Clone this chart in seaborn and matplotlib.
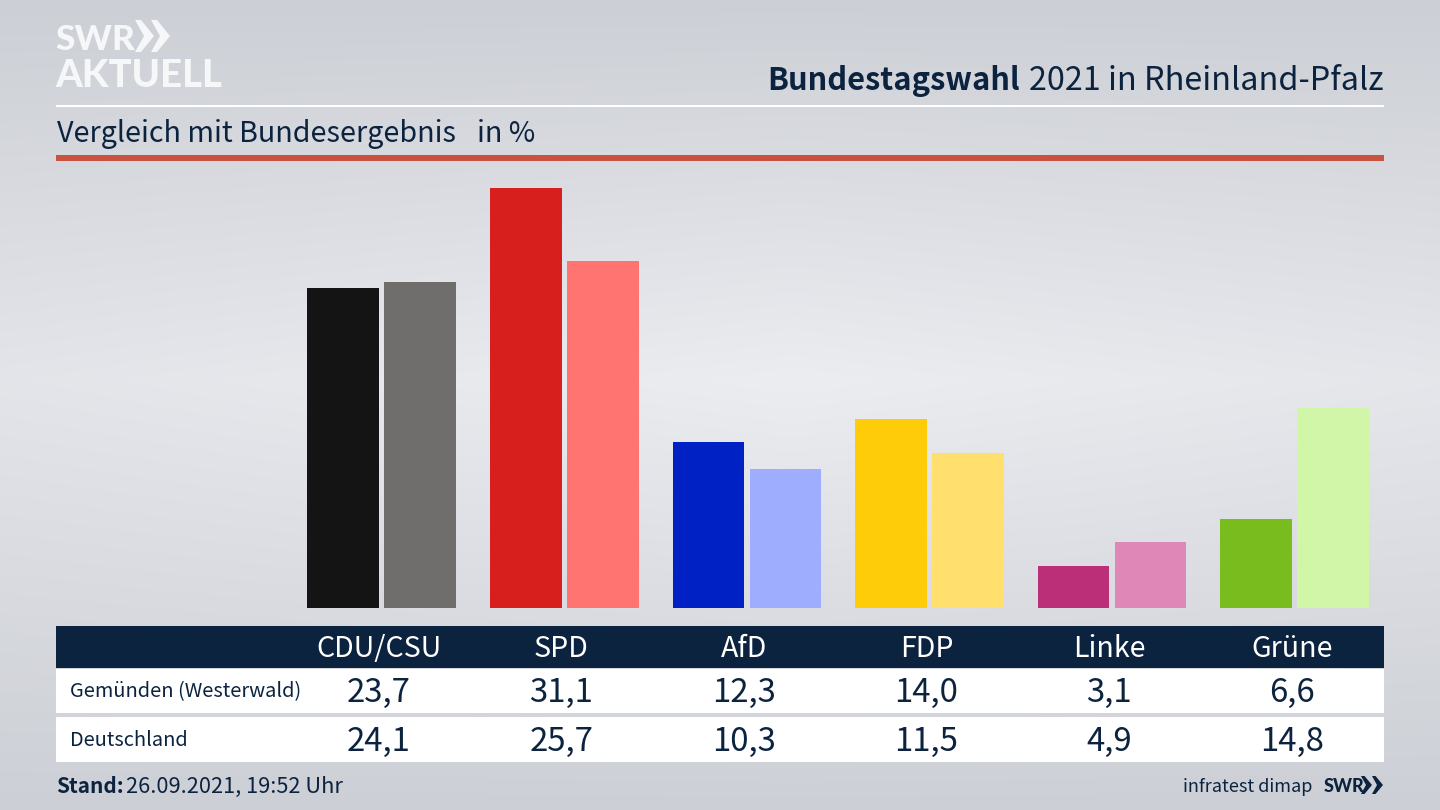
import numpy as np
import pandas as pd
import matplotlib
matplotlib.use("Agg")
import matplotlib.pyplot as plt
from matplotlib.patches import Rectangle, Polygon
from matplotlib.transforms import blended_transform_factory
import seaborn as sns

parties = ["CDU/CSU", "SPD", "AfD", "FDP", "Linke", "Grüne"]
local_name = "Gemünden (Westerwald)"
national_name = "Deutschland"
local_values = [23.7, 31.1, 12.3, 14.0, 3.1, 6.6]
national_values = [24.1, 25.7, 10.3, 11.5, 4.9, 14.8]
local_colors = ["#141414", "#d71f1d", "#0021c4", "#ffcc0a", "#bb2e78", "#78bc1e"]
national_colors = ["#6f6e6c", "#ff7370", "#9fadff", "#ffe06e", "#df88b8", "#d2f6a8"]

NAVY = "#0c2340"
FONT = "Noto Sans CJK SC"

sns.set_theme(style="white")
plt.rcParams["font.family"] = [FONT, "DejaVu Sans"]

W, H = 1440, 810
fig = plt.figure(figsize=(W / 100, H / 100), dpi=100)

# Page layer in pixel coordinates
page = fig.add_axes([0, 0, 1, 1], zorder=0)
page.set_xlim(0, W)
page.set_ylim(H, 0)
page.axis("off")

yy, xx = np.mgrid[0:H, 0:W]
vert = np.interp(yy, [0, 380, 810], [0.0, 1.0, 0.0])
horiz = 1 - 0.25 * np.abs(xx / W - 0.55) * 2
mix = (vert * horiz)[..., None]
dark = np.array([204, 207, 213]) / 255
light = np.array([236, 237, 241]) / 255
page.imshow(dark + (light - dark) * mix, extent=[0, W, H, 0], aspect="auto", zorder=0)

# Chart layer
ax = fig.add_axes([56 / W, 1 - 608 / H, (1384 - 56) / W, (608 - 165) / H], zorder=1)
ax.patch.set_alpha(0)
df = pd.DataFrame({
    "party": parties * 2,
    "region": [local_name] * 6 + [national_name] * 6,
    "value": local_values + national_values,
})
sns.barplot(data=df, x="party", y="value", hue="region", width=0.845, gap=0.072,
            saturation=1, legend=False, ax=ax)
for container, colors in zip(ax.containers, [local_colors, national_colors]):
    for bar, color in zip(container, colors):
        bar.set_facecolor(color)
        bar.set_edgecolor("none")
ax.set_xlim((56 - 381.7) / 182.6, (1384 - 381.7) / 182.6)
ax.set_ylim(0, (608 - 165) / 13.52)
ax.axis("off")

# Header
page.add_patch(Rectangle((56, 104.8), 1328, 2.6, fc="white", ec="none", zorder=2))
page.add_patch(Rectangle((56, 155), 1328, 5.5, fc="#c9513f", ec="none", zorder=2))
page.text(1384, 90, "2021 in Rheinland-Pfalz", ha="right", va="baseline",
          fontsize=23.3, color=NAVY, zorder=3)
page.text(1020, 90, "Bundestagswahl", ha="right", va="baseline", fontsize=22.2,
          fontweight="bold", color=NAVY, zorder=3)
page.text(57, 142, "Vergleich mit Bundesergebnis", ha="left", va="baseline",
          fontsize=20.7, color=NAVY, zorder=3)
page.text(477, 142, "in %", ha="left", va="baseline", fontsize=20.7, color=NAVY, zorder=3)

# Logo
logo_font = ["Lato", "DejaVu Sans"]
page.text(55, 50, "SWR", ha="left", va="baseline", fontsize=25.5, fontweight=900,
          family=logo_font, color="#f6f7f8", zorder=3)
page.text(55, 87, "AKTUELL", ha="left", va="baseline", fontsize=27.5, fontweight=900,
          family=logo_font, color="#f6f7f8", zorder=3)
for x0 in (135, 151):
    page.add_patch(Polygon([(x0, 20), (x0 + 6, 20), (x0 + 19, 36), (x0 + 6, 52), (x0, 52), (x0 + 9, 36)],
                           fc="#f6f7f8", ec="none", zorder=3))

# Table
page.add_patch(Rectangle((56, 626), 1328, 42, fc=NAVY, ec="none", zorder=2))
page.add_patch(Rectangle((56, 669), 1328, 44, fc="white", ec="none", zorder=2))
page.add_patch(Rectangle((56, 717), 1328, 45, fc="white", ec="none", zorder=2))
cell = blended_transform_factory(ax.transData, page.transData)
shift = 3 / 182.6
for i, party in enumerate(parties):
    page.text(i - shift, 657, party, transform=cell, ha="center", va="baseline",
              fontsize=20.6, color="white", zorder=3)
    page.text(i - shift, 702, f"{local_values[i]:.1f}".replace(".", ","), transform=cell,
              ha="center", va="baseline", fontsize=23.7, color=NAVY, zorder=3)
    page.text(i - shift, 751, f"{national_values[i]:.1f}".replace(".", ","), transform=cell,
              ha="center", va="baseline", fontsize=23.7, color=NAVY, zorder=3)
page.text(70, 697, local_name, ha="left", va="baseline", fontsize=14.4, color=NAVY, zorder=3)
page.text(70, 746, national_name, ha="left", va="baseline", fontsize=14.4, color=NAVY, zorder=3)

# Footer
page.text(56, 793, "Stand:", ha="left", va="baseline", fontsize=15, fontweight="bold",
          color=NAVY, zorder=3)
page.text(126, 793, "26.09.2021, 19:52 Uhr", ha="left", va="baseline", fontsize=15.7,
          color=NAVY, zorder=3)
page.text(1312, 792, "infratest dimap", ha="right", va="baseline", fontsize=13,
          color=NAVY, zorder=3)
page.text(1324, 792, "SWR", ha="left", va="baseline", fontsize=13, fontweight=900,
          family=logo_font, color=NAVY, zorder=3)
for x0 in (1361, 1372):
    page.add_patch(Polygon([(x0, 776), (x0 + 3.5, 776), (x0 + 11, 785), (x0 + 3.5, 794), (x0, 794), (x0 + 5, 785)],
                           fc=NAVY, ec="none", zorder=3))

fig.savefig("out.png", dpi=100)
